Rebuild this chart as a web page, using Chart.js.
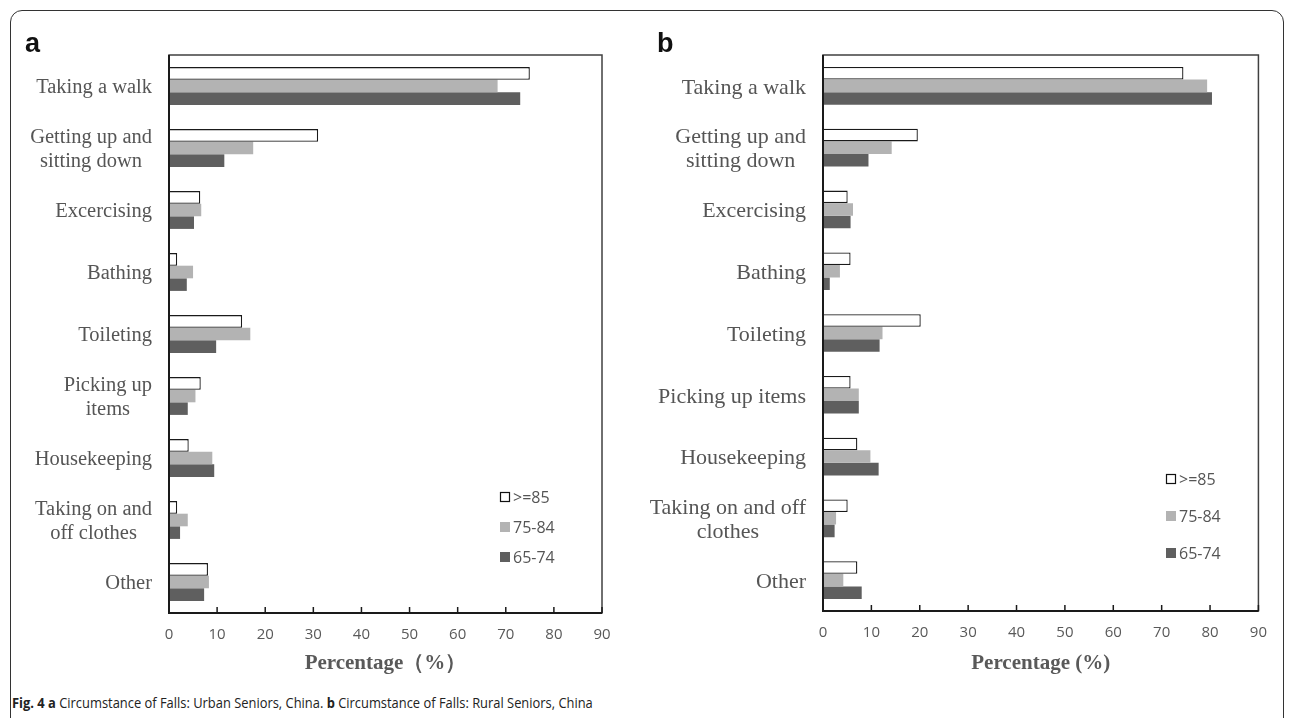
<!DOCTYPE html>
<html>
<head>
<meta charset="utf-8">
<script src="https://cdn.jsdelivr.net/npm/chart.js@4.4.1/dist/chart.umd.min.js"></script>
<style>
  body { margin: 0; background: #fff; width: 1295px; height: 718px; overflow: hidden; position: relative; font-family: 'Open Sans', sans-serif; }
  #frame { position: absolute; left: 10px; top: 10px; width: 1272px; height: 740px; border: 1.5px solid #333; border-radius: 12px; }
  .tag { position: absolute; font: bold 27px 'Liberation Sans', Arial, sans-serif; color: #111; }
  #caption { position: absolute; left: 12px; top: 692px; font-size: 15px; color: #222; white-space: nowrap; transform: scaleX(0.86); transform-origin: left top; }
  canvas { position: absolute; }
</style>
</head>
<body>
<div id="frame"></div>
<canvas id="urbanChart" width="610" height="650" style="left:20px;top:40px;"></canvas>
<canvas id="ruralChart" width="640" height="650" style="left:640px;top:40px;"></canvas>
<div class="tag" style="left:25px;top:28px;">a</div>
<div class="tag" style="left:657px;top:28px;">b</div>
<div id="caption"><b>Fig. 4 a</b> Circumstance of Falls: Urban Seniors, China. <b>b</b> Circumstance of Falls: Rural Seniors, China</div>

<script>
// age groups, top bar to bottom bar in each group
const ageGroups = ['>=85', '75-84', '65-74'];

const urbanCategories = ['Taking a walk', ['Getting up and', 'sitting down'], 'Excercising', 'Bathing', 'Toileting',
    ['Picking up', 'items'], 'Housekeeping', ['Taking on and', 'off clothes'], 'Other'];
const urban85 = [75, 31, 6.5, 1.7, 15.2, 6.6, 4.1, 1.7, 8.1];
const urban75 = [68.3, 17.5, 6.7, 5, 16.9, 5.5, 9, 3.9, 8.3];
const urban65 = [73, 11.5, 5.2, 3.7, 9.8, 3.9, 9.4, 2.3, 7.3];

const ruralCategories = ['Taking a walk', ['Getting up and', 'sitting down'], 'Excercising', 'Bathing', 'Toileting',
    'Picking up items', 'Housekeeping', ['Taking on and off', 'clothes'], 'Other'];
const rural85 = [74.5, 19.6, 5.1, 5.7, 20.2, 5.7, 7.1, 5.1, 7.1];
const rural75 = [79.4, 14.2, 6.2, 3.5, 12.3, 7.4, 9.8, 2.7, 4.2];
const rural65 = [80.4, 9.4, 5.7, 1.4, 11.7, 7.4, 11.5, 2.4, 8.0];

const xMin = 0, xMax = 90, xStep = 10;

// box around plot, inward ticks, category labels and the little legend
const panelPlugin = {
    id: 'panelDecor',
    afterDraw(chart, args, opts) {
        const ctx = chart.ctx;
        const area = chart.chartArea;
        const x = chart.scales.x, y = chart.scales.y;
        ctx.save();

        // frame
        ctx.strokeStyle = '#404040';
        ctx.lineWidth = 1.5;
        ctx.strokeRect(area.left, area.top, area.right - area.left, area.bottom - area.top);
        ctx.strokeStyle = '#1a1a1a';
        ctx.lineWidth = 2;
        ctx.beginPath();
        ctx.moveTo(area.left, area.top);
        ctx.lineTo(area.left, area.bottom);
        ctx.lineTo(area.right, area.bottom);
        ctx.stroke();

        // tick marks pointing up into the plot
        ctx.lineWidth = 1.5;
        for (let v = xMin + xStep; v <= xMax; v += xStep) {
            const px = x.getPixelForValue(v);
            ctx.beginPath();
            ctx.moveTo(px, area.bottom);
            ctx.lineTo(px, area.bottom - 6);
            ctx.stroke();
        }

        // category labels, lines centred, block right aligned
        ctx.font = opts.labelFont;
        ctx.fillStyle = '#555';
        ctx.textAlign = 'center';
        ctx.textBaseline = 'middle';
        chart.data.labels.forEach((lab, i) => {
            const lines = Array.isArray(lab) ? lab : [lab];
            const w = Math.max(...lines.map(l => ctx.measureText(l).width));
            const cx = area.left - 17 - w / 2;
            const cy = y.getPixelForValue(i) + 2;
            lines.forEach((l, k) => {
                ctx.fillText(l, cx, cy + (k - (lines.length - 1) / 2) * opts.lineHeight);
            });
        });

        // legend
        ctx.font = '16px "Open Sans", sans-serif';
        ctx.textAlign = 'left';
        chart.data.datasets.forEach((ds, i) => {
            const lx = area.left + opts.legendX;
            const ly = area.top + opts.legendY + i * opts.legendGap;
            ctx.fillStyle = ds.backgroundColor;
            ctx.fillRect(lx, ly - 5, 10, 10);
            if (ds.borderWidth) {
                ctx.strokeStyle = '#111';
                ctx.lineWidth = 1.2;
                ctx.strokeRect(lx + 0.5, ly - 4.5, 9, 9);
            }
            ctx.fillStyle = '#555';
            ctx.fillText(ds.label, lx + 13, ly + 1);
        });
        ctx.restore();
    }
};

function makePanel(canvasId, categories, s85, s75, s65, cfg) {
    new Chart(document.getElementById(canvasId), {
        type: 'bar',
        data: {
            labels: categories,
            datasets: [
                { label: ageGroups[0], data: s85, backgroundColor: '#ffffff', borderColor: '#1a1a1a', borderWidth: 1.3 },
                { label: ageGroups[1], data: s75, backgroundColor: '#b3b3b3', borderWidth: 0 },
                { label: ageGroups[2], data: s65, backgroundColor: '#5f5f5f', borderWidth: 0 }
            ]
        },
        options: {
            indexAxis: 'y',
            responsive: false,
            animation: false,
            devicePixelRatio: 1,
            layout: { padding: { top: 15, right: cfg.padRight, left: 0, bottom: 0 } },
            datasets: { bar: { barPercentage: 1, categoryPercentage: 0.61 } },
            plugins: {
                legend: { display: false },
                tooltip: { enabled: false },
                panelDecor: cfg.decor
            },
            scales: {
                x: {
                    min: xMin,
                    max: xMax,
                    ticks: { stepSize: xStep, color: '#595959', padding: 13, font: { family: 'Open Sans', size: 15 } },
                    grid: { display: false, drawTicks: false },
                    border: { display: false },
                    title: {
                        display: true,
                        text: cfg.title,
                        color: '#595959',
                        font: { family: 'Liberation Serif', size: 21, weight: 'bold' },
                        padding: { top: 0, bottom: 14 }
                    },
                    afterFit(scale) { scale.height = cfg.xHeight; }
                },
                y: {
                    ticks: { display: false },
                    grid: { display: false },
                    border: { display: false },
                    afterFit(scale) { scale.width = cfg.yWidth; }
                }
            }
        },
        plugins: [panelPlugin]
    });
}

makePanel('urbanChart', urbanCategories, urban85, urban75, urban65, {
    title: 'Percentage（%）', padRight: 28, xHeight: 77, yWidth: 149,
    decor: { labelFont: '20.5px "Liberation Serif", serif', lineHeight: 24, legendX: 331, legendY: 442, legendGap: 30 }
});

makePanel('ruralChart', ruralCategories, rural85, rural75, rural65, {
    title: 'Percentage (%)', padRight: 17, xHeight: 79, yWidth: 183,
    decor: { labelFont: '22px "Liberation Serif", serif', lineHeight: 24, legendX: 343, legendY: 424, legendGap: 37 }
});
</script>
</body>
</html>
